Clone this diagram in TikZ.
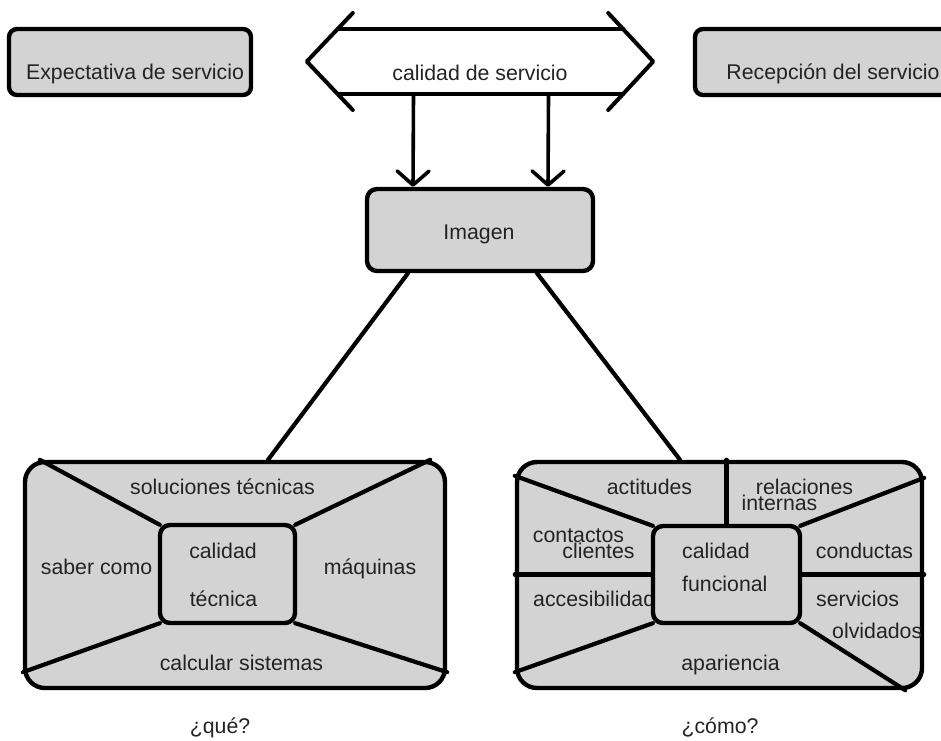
\documentclass[tikz,border=0pt]{standalone}
\usepackage{fontspec}
\setmainfont{Liberation Sans}
\usetikzlibrary{arrows.meta,calc}
\definecolor{boxgray}{RGB}{211,211,211}
\definecolor{inkgray}{RGB}{35,35,35}
\newcommand{\lblfont}{\fontsize{21.3}{24}\selectfont}
\begin{document}
\begin{tikzpicture}[x=1pt,y=-1pt,
  line cap=round, line join=round,
  panel/.style={draw=black, fill=boxgray, line width=4.4pt, rounded corners=#1, inner sep=0pt},
  panel/.default=8pt,
  lbl/.style={font=\lblfont, text=inkgray, inner sep=0pt, anchor=base},
  lblw/.style={lbl, anchor=base west},
  edge/.style={line width=4.2pt},
  band/.style={line width=4pt},
  arr/.style={line width=3.6pt, -{Straight Barb[length=14pt, width=32pt, round]}},
]
% canvas
\fill[white] (0,0) rectangle (941,740);
\useasboundingbox (0,0) rectangle (941,740);

% ---- top row ----
\node[panel, minimum width=242pt, minimum height=66pt] (exp) at (130,62) {};
\node[lbl] at (135,79) {Expectativa de servicio};

\node[panel, minimum width=275pt, minimum height=66pt] (rec) at (832.5,62) {};
\node[lbl] at (833,79) {Recepción del servicio};

% double-headed band
\node[minimum width=285pt, minimum height=65pt, inner sep=0pt] (dq) at (480.5,61.5) {};
\node[lbl] at (480,80) {calidad de servicio};
\draw[band] (dq.north west) -- (dq.north east);
\draw[band] (dq.south west) -- (dq.south east);
\draw[band] ($(dq.west)+(15,-48.5)$) -- ($(dq.west)+(-31,0)$) -- ($(dq.west)+(15,48.5)$);
\draw[band] ($(dq.east)+(-15,-48.5)$) -- ($(dq.east)+(30,0)$) -- ($(dq.east)+(-15,48.5)$);

% ---- image ----
\node[panel=10pt, minimum width=226pt, minimum height=82pt] (img) at (480,230) {};
\node[lbl] at (479,239) {Imagen};

\draw[arr] ([xshift=-67pt]dq.south) -- ([xshift=-67pt]img.north);
\draw[arr] ([xshift=68pt]dq.south) -- ([xshift=68pt]img.north);

% ---- technical quality panel ----
\node[panel=20pt, minimum width=420pt, minimum height=226pt] (lbox) at (235,575) {};
\node[minimum width=135pt, minimum height=98pt, inner sep=0pt] (lin) at (227.5,574) {};
\draw[edge] ([xshift=17pt]lbox.north west) -- (lin.north west);
\draw[edge] ([xshift=-17pt]lbox.north east) -- (lin.north east);
\draw[edge] ([yshift=18pt]lbox.south west) -- (lin.south west);
\draw[edge] ([yshift=18pt]lbox.south east) -- (lin.south east);
\node[panel=10pt, minimum width=135pt, minimum height=98pt] at (lin) {};
\node[lbl] at (222.5,494) {soluciones técnicas};
\node[lbl] at (96.5,574) {saber como};
\node[lbl] at (370,574) {máquinas};
\node[lbl] at (223,558) {calidad};
\node[lbl] at (223.5,606) {técnica};
\node[lbl] at (241.5,670) {calcular sistemas};
\node[lbl] at (220,733) {¿qué?};

% ---- functional quality panel ----
\node[panel=20pt, minimum width=405pt, minimum height=226pt] (rbox) at (719.5,575) {};
\node[minimum width=147pt, minimum height=97pt, inner sep=0pt] (rin) at (726.5,574.5) {};
\draw[edge] (rin.north) -- (rin.north |- rbox.north);
\draw[edge] (rin.west -| rbox.west) -- (rin.west);
\draw[edge] (rin.east) -- (rin.east -| rbox.east);
\draw[edge] ([yshift=-16pt]rbox.north west) -- (rin.north west);
\draw[edge] ([yshift=-18pt]rbox.north east) -- (rin.north east);
\draw[edge] ([yshift=18pt]rbox.south west) -- (rin.south west);
\draw[edge] ([xshift=-19pt]rbox.south east) -- (rin.south east);
\node[lbl] at (649.5,494) {actitudes};
\node[lbl] at (804.5,494) {relaciones};
\node[lbl] at (779.5,510) {internas};
\node[lbl] at (578.5,542) {contactos};
\node[lbl] at (598.5,558) {clientes};
\node[lblw] at (533,606) {accesibilidad};
\node[lbl] at (864.5,558) {conductas};
\node[lblw] at (816,606) {servicios};
\node[lblw] at (832,638) {olvidados};
\node[lbl] at (730.5,670) {apariencia};
\node[panel=10pt, minimum width=147pt, minimum height=97pt] at (rin) {};
\node[lblw] at (682,558) {calidad};
\node[lblw] at (682,591) {funcional};
\node[lbl] at (720,733) {¿cómo?};

% ---- links from the image box ----
\draw[edge] ([xshift=-72pt]img.south) -- ([xshift=33pt]lbox.north);
\draw[edge] ([xshift=57pt]img.south) -- ([xshift=-39.5pt]rbox.north);
\end{tikzpicture}
\end{document}
